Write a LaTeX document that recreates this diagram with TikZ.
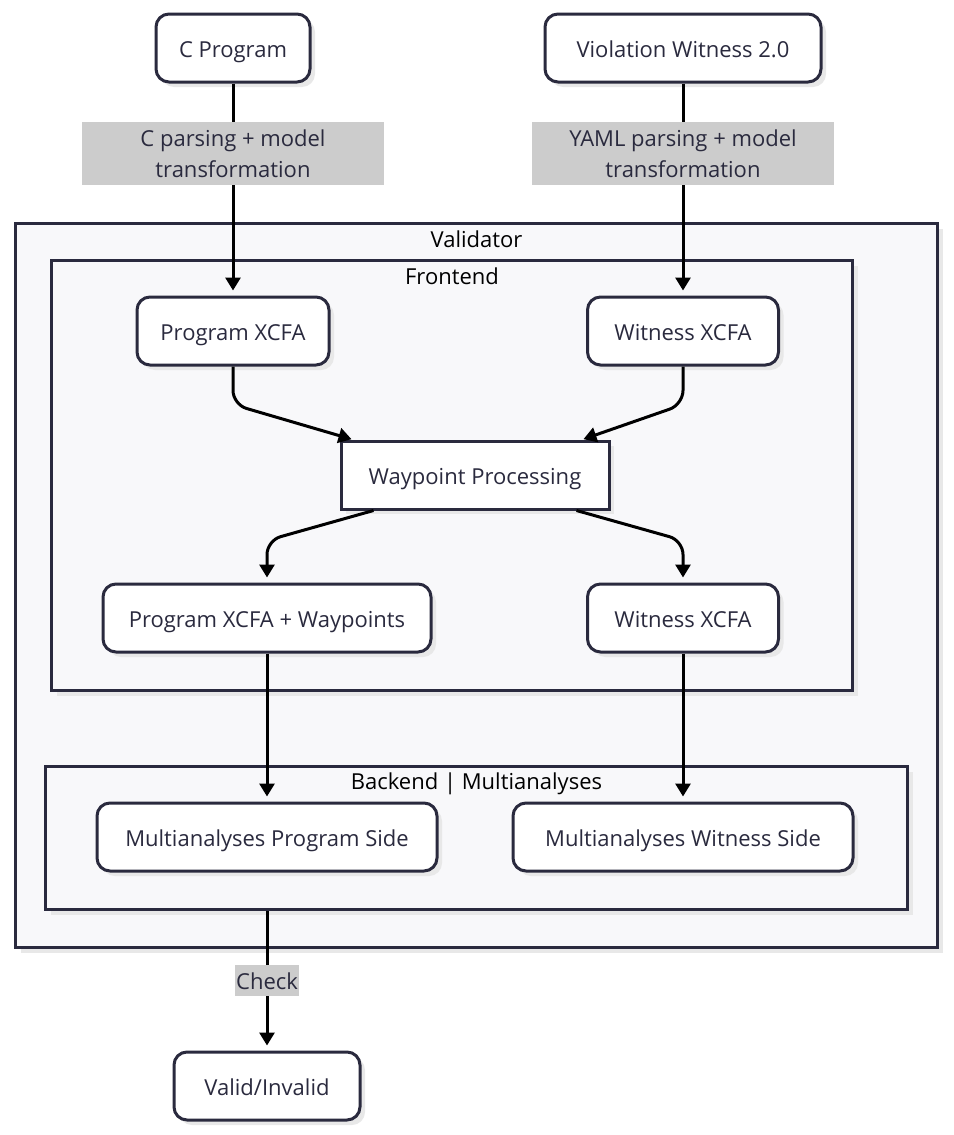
\documentclass[tikz,border=0pt]{standalone}
\usepackage{fontspec}
\setmainfont{Open Sans}
\usetikzlibrary{
	arrows.meta,
	positioning,
	shadows,
}
\definecolor{ink}{HTML}{2A2A3E}
\definecolor{panel}{HTML}{F8F8FA}
\definecolor{tagfill}{HTML}{CCCCCC}
\tikzset{shade box/.style={drop shadow={shadow xshift=5pt,shadow yshift=-5pt,fill=black!9,opacity=1}}}
\tikzset{block/.style={draw=ink,fill=white,line width=3pt,rounded corners=13pt,text=ink,minimum height=68pt,inner sep=0pt,text height=18pt,text depth=0pt,shade box,}}
\tikzset{sharp block/.style={block,rounded corners=0pt,}}
\tikzset{cluster/.style={draw=ink,fill=panel,line width=3pt,anchor=north west,inner sep=0pt,shade box,}}
\tikzset{cluster title/.style={text=black,inner sep=0pt,below=18pt,}}
\tikzset{tag/.style={fill=tagfill,text=ink,inner sep=0pt,align=center,font=\fontsize{22}{31}\selectfont,}}
\tikzset{flow/.style={line width=3pt,-{Triangle[length=13pt,width=15pt]},shorten >=5pt,}}
\tikzset{
	x=1pt,y=-1pt,
	every node/.append style={font=\fontsize{22}{26}\selectfont},
}

\begin{document}
\begin{tikzpicture}
\useasboundingbox[fill=white] (0,0) rectangle (953,1135);

\node[cluster,minimum width=922pt,minimum height=724pt] (validator) at (14,222) {};
\node[cluster title,below=9pt] (validatorT) at (validator.north) {Validator};
\node[cluster,minimum width=801pt,minimum height=430pt] (frontend) at (50,259) {};
\node[cluster title,below=9pt] (frontendT) at (frontend.north) {Frontend};
\node[cluster,minimum width=862pt,minimum height=143pt] (backend) at (44,765) {};
\node[cluster title,below=8pt] (backendT) at (backend.north) {Backend | Multianalyses};

\node[block,minimum width=154pt](cprog) at (233,48) {C Program};
\node[block,minimum width=276pt](vwit) at (683,48) {Violation Witness 2.0};
\node[block,minimum width=192pt](pxcfa) at (233,331) {Program XCFA};
\node[block,minimum width=191pt](wxcfa) at (683,331) {Witness XCFA};
\node[sharp block,minimum width=268pt](wp) at (475,475) {Waypoint Processing};
\node[block,minimum width=328pt](pxw) at (267,618) {Program XCFA + Waypoints};
\node[block,minimum width=191pt](wxcfa2) at (683,618) {Witness XCFA};
\node[block,minimum width=340pt](mps) at (267,837) {Multianalyses Program Side};
\node[block,minimum width=340pt](mws) at (683,837) {Multianalyses Witness Side};
\node[block,minimum width=186pt](valid) at (267,1086) {Valid/Invalid};

\draw[flow] (cprog) -- node[tag,pos=.33,minimum width=302pt,minimum height=63pt](cparse){C parsing + model\\transformation} (pxcfa);
\draw[flow] (vwit) -- node[tag,pos=.33,minimum width=302pt,minimum height=63pt](yparse){YAML parsing + model\\transformation} (wxcfa);
\draw[flow,rounded corners=14pt,shorten >=1pt] (pxcfa.south) -- ([yshift=-38pt]pxcfa.south) -- ([xshift=13pt]wp.north west);
\draw[flow,rounded corners=14pt,shorten >=1pt] (wxcfa.south) -- ([yshift=-38pt]wxcfa.south) -- ([xshift=-28pt]wp.north east);
\draw[flow,rounded corners=14pt] ([xshift=34pt]wp.south west) -- ([yshift=42pt]pxw.north) -- (pxw.north);
\draw[flow,rounded corners=14pt] ([xshift=-34pt]wp.south east) -- ([yshift=42pt]wxcfa2.north) -- (wxcfa2.north);
\draw[flow] (pxw) -- (mps);
\draw[flow] (wxcfa2) -- (mws);
\draw[flow] (backend.south -| mps) -- node[tag,inner xsep=1pt,minimum height=31pt](check){Check} (valid);

\end{tikzpicture}
\end{document}
